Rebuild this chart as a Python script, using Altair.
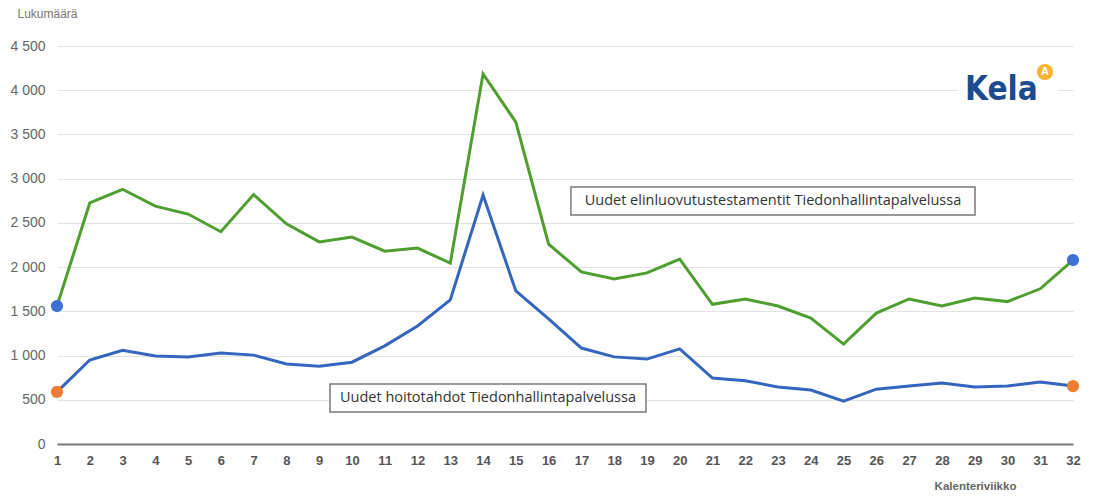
import altair as alt
import pandas as pd

weeks = list(range(1, 33))
testamentit = [1560, 2725, 2880, 2690, 2600, 2400, 2820, 2490, 2285, 2340, 2180, 2215, 2045, 4185, 3640, 2260,
               1945, 1865, 1935, 2090, 1580, 1640, 1560, 1425, 1130, 1480, 1640, 1560, 1650, 1610, 1755, 2080]
hoitotahdot = [590, 950, 1060, 995, 985, 1030, 1005, 905, 880, 925, 1110, 1335, 1630, 2815, 1730, 1415,
               1085, 985, 960, 1075, 745, 715, 645, 610, 485, 620, 655, 690, 645, 655, 700, 655]
series_names = ["Uudet elinluovutustestamentit Tiedonhallintapalvelussa", "Uudet hoitotahdot Tiedonhallintapalvelussa"]
line_colors = ["#4e9f2f", "#3466bf"]

df = pd.DataFrame({
    "week": weeks * 2,
    "value": testamentit + hoitotahdot,
    "series": [series_names[0]] * 32 + [series_names[1]] * 32,
})

# endpoint markers (colours as in the original chart)
end_df = pd.DataFrame({
    "week": [1, 1, 32, 32],
    "value": [testamentit[0], hoitotahdot[0], testamentit[-1], hoitotahdot[-1]],
    "col": ["#3f6fd1", "#ee7d31", "#3f6fd1", "#ee7d31"],
})

# annotation boxes (data coordinates)
ann_df = pd.DataFrame({
    "label": series_names,
    "x1": [16.68, 9.33], "x2": [29.01, 18.97],
    "y1": [2590, 362], "y2": [2907, 679],
    "xm": [22.845, 14.15], "ym": [2748, 520],
})

W, H = 1016, 398
xs = alt.Scale(domain=[1, 32], nice=False, zero=False)
ys = alt.Scale(domain=[0, 4500], nice=False)

x_axis = alt.Axis(values=weeks, format="d", title="Kalenteriviikko", grid=False, ticks=False,
                  domainColor="#777777", domainWidth=2, labelColor="#555555", labelFontSize=13,
                  labelFontWeight="bold", labelPadding=10, labelFont="Liberation Sans",
                  labelOverlap=False, labelBound=False, labelFlush=False,
                  titleFontSize=11.5, titleFontWeight="bold", titleColor="#666666", titleFont="Liberation Sans",
                  titleAnchor="end", titleAlign="center", titlePadding=13, titleX=W - 98)
y_axis = alt.Axis(values=list(range(0, 5000, 500)), title="Lukumäärä", grid=True, gridColor="#e3e3e3",
                  gridWidth=1, ticks=False, domain=False,
                  labelExpr="replace(format(datum.value, ','), ',', ' ')",
                  labelColor="#666666", labelFontSize=14, labelPadding=12, labelFont="Liberation Sans",
                  titleAngle=0, titleAlign="left", titleBaseline="middle", titleX=-40, titleY=-33,
                  titleFontSize=12, titleFontWeight="normal", titleColor="#777777", titleFont="Liberation Sans")

base = alt.Chart(df)
lines = base.mark_line(strokeWidth=3, interpolate="linear").encode(
    x=alt.X("week:Q", scale=xs, axis=x_axis),
    y=alt.Y("value:Q", scale=ys, axis=y_axis),
    color=alt.Color("series:N", scale=alt.Scale(domain=series_names, range=line_colors), legend=None),
)

points = alt.Chart(end_df).mark_circle(size=150, opacity=1).encode(
    x=alt.X("week:Q", scale=xs, axis=x_axis), y=alt.Y("value:Q", scale=ys, axis=y_axis),
    color=alt.Color("col:N", scale=None),
)

boxes = alt.Chart(ann_df).mark_rect(fill="white", stroke="#7a7a7a", strokeWidth=1.5).encode(
    x=alt.X("x1:Q", axis=x_axis), x2="x2:Q", y=alt.Y("y1:Q", axis=y_axis), y2="y2:Q",
)
box_text = alt.Chart(ann_df).mark_text(fontSize=14.5, color="#333333", font="Open Sans").encode(
    x=alt.X("xm:Q", axis=x_axis), y=alt.Y("ym:Q", axis=y_axis), text="label:N",
)

# Kela logo
logo_bg = alt.Chart(pd.DataFrame({"a": [0]})).mark_rect(fill="white").encode(
    x=alt.value(W - 115), x2=alt.value(W - 15), y=alt.value(14), y2=alt.value(70))
logo_text = alt.Chart(pd.DataFrame({"t": ["Kela"]})).mark_text(
    fontSize=33, fontWeight="bold", color="#1d4b8f", font="DejaVu Sans Condensed", align="left", baseline="middle"
).encode(x=alt.value(W - 108), y=alt.value(44), text="t:N")
logo_dot = alt.Chart(pd.DataFrame({"a": [0]})).mark_circle(size=260, color="#f6b432", opacity=1).encode(
    x=alt.value(W - 28), y=alt.value(26))
logo_glyph = alt.Chart(pd.DataFrame({"t": ["A"]})).mark_text(
    fontSize=11, fontWeight="bold", color="white", baseline="middle"
).encode(x=alt.value(W - 28), y=alt.value(26), text="t:N")

chart = alt.layer(lines, logo_bg, logo_text, logo_dot, logo_glyph, boxes, box_text, points).properties(
    width=W, height=H,
    autosize=alt.AutoSizeParams(type="none"),
    padding={"left": 49, "top": 38, "right": 14, "bottom": 47},
).configure(
    background="white",
    view=alt.ViewConfig(stroke=None),
    axisX=alt.AxisConfig(labelOverlap=False),
)

chart.save("out.html", embed_options={"renderer": "svg", "actions": False})
